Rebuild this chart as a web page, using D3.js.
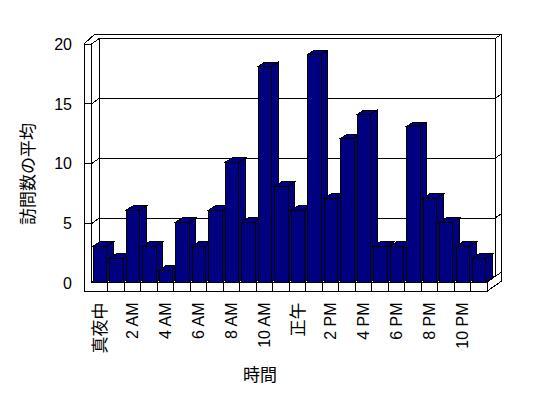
<!DOCTYPE html>
<html><head><meta charset="utf-8">
<script src="https://cdn.jsdelivr.net/npm/d3@7"></script>
<style>html,body{margin:0;padding:0;background:#fff;} svg{display:block;}</style>
</head><body><svg id="c" width="548" height="398"></svg>
<script>
const categories = ["0","1","2","3","4","5","6","7","8","9","10","11","12","13","14","15","16","17","18","19","20","21","22","23"];
const visits = [3,2,6,3,1,5,3,6,10,5,18,8,6,19,7,12,14,3,3,13,7,5,3,2];
const tickCategories = ["0","2","4","6","8","10","12","14","16","18","20","22"];
const tickLabels = ["真夜中","2 AM","4 AM","6 AM","8 AM","10 AM","正午","2 PM","4 PM","6 PM","8 PM","10 PM"];
const yTicks = [0,5,10,15,20];
const yTitle = "訪問数の平均";
const xTitle = "時間";

const FONT = "'Liberation Sans', Arial, 'Noto Sans CJK JP', sans-serif";
const svg = d3.select("#c");
svg.append("rect").attr("width",548).attr("height",398).attr("fill","#fff");

const x = d3.scaleBand().domain(categories).range([91.5, 487.3]);
const y = d3.scaleLinear().domain([0,20]).range([283.5, 44]);

const depth = [7.7, -5.5], wallT = [6.7, -4.5], wallW = 7.5;
const xL = x.range()[0], xR = x.range()[1];
const xOut = xL - wallW;
const floorTop = y(0) - 1.5, floorBot = floorTop + 9;
const yb = v => y(v) + depth[1];
const bx0 = xL + depth[0], bx1 = xR + depth[0];
const oxR = bx1 + wallT[0];

const g = svg.append("g").attr("fill","none").attr("stroke","#000")
  .attr("stroke-width",1).attr("shape-rendering","crispEdges");
const line = pts => g.append("path").attr("d", d3.line()(pts));

// back wall inner face edges
line([[bx0, floorTop + depth[1]], [bx0, yb(20)]]);
line([[bx1, yb(20)], [bx1, floorTop + depth[1]]]);
// back wall outer top + right edge
const oyT = yb(20) + wallT[1];
line([[xOut, y(20)], [xOut + 11, oyT], [oxR, oyT], [oxR, floorBot + depth[1] + wallT[1]]]);
// gridlines (front face of left wall, inner face, back wall, right end)
yTicks.filter(v => v > 0).forEach(v => {
  line([[xOut, y(v)], [xL, y(v)], [bx0, yb(v)], [bx1, yb(v)], [oxR, yb(v) + wallT[1]]]);
});
// floor / back wall junction
line([[xL, floorTop], [bx0, floorTop + depth[1]], [bx1, floorTop + depth[1]], [oxR, floorTop + depth[1] + wallT[1]]]);
// left wall + floor front face
line([[xOut, y(20)], [xOut, floorBot], [xR, floorBot], [xR, floorTop], [xL, floorTop], [xL, y(20)]]);
line([[xR, floorTop], [bx1, floorTop + depth[1]]]);
line([[xR, floorBot], [oxR, floorBot + depth[1] + wallT[1]]]);
categories.slice(1).forEach(c => line([[x(c), floorTop], [x(c), floorBot]]));

// bars
const bw = x.bandwidth() * 0.81, bOff = x.bandwidth() * 0.11;
const side = [6.7, -4.3];
const bars = svg.append("g").attr("fill","#000080").attr("stroke","#000")
  .attr("stroke-width",1).attr("shape-rendering","crispEdges");
categories.forEach((c, i) => {
  const x0 = x(c) + bOff, x1 = x0 + bw, yt = y(visits[i]) - 1.5, y0 = floorTop;
  const bg = bars.append("g");
  bg.append("path").attr("d", d3.line()([[x1, yt], [x1 + side[0], yt + side[1]], [x1 + side[0], y0 + side[1]], [x1, y0]]) + "Z");
  bg.append("path").attr("d", d3.line()([[x0, yt], [x1, yt], [x1 + side[0], yt + side[1]], [x0 + side[0], yt + side[1]]]) + "Z");
  bg.append("rect").attr("x", x0).attr("y", yt).attr("width", bw).attr("height", y0 - yt);
});

// y axis labels
const ya = svg.append("g").attr("transform","translate(72,0)")
  .call(d3.axisLeft(y).tickValues(yTicks).tickSize(0).tickPadding(0));
ya.select(".domain").remove();
ya.attr("font-family", FONT).attr("font-size", 16);
ya.selectAll("text").attr("fill","#000");

// x axis labels
const xa = svg.append("g").attr("transform","translate(0,302.5)")
  .call(d3.axisBottom(x).tickValues(tickCategories).tickFormat((d,i) => tickLabels[i]).tickSize(0));
xa.select(".domain").remove();
xa.attr("font-family", FONT).attr("font-size", 16);
xa.selectAll("text").attr("fill","#000").attr("transform","rotate(-90)")
  .attr("x",0).attr("y",0).attr("dy","0.35em").attr("text-anchor","end")
  .attr("font-size", d => /[A-Z]/.test(tickLabels[tickCategories.indexOf(d)]) ? 16 : 17);

// titles
svg.append("text").attr("transform","translate(28.5,174) rotate(-90)")
  .attr("text-anchor","middle").attr("dy","0.35em")
  .attr("font-family",FONT).attr("font-size",17).text(yTitle);
svg.append("text").attr("x",260).attr("y",375)
  .attr("text-anchor","middle").attr("dy","0.35em")
  .attr("font-family",FONT).attr("font-size",17).text(xTitle);
</script></body></html>
